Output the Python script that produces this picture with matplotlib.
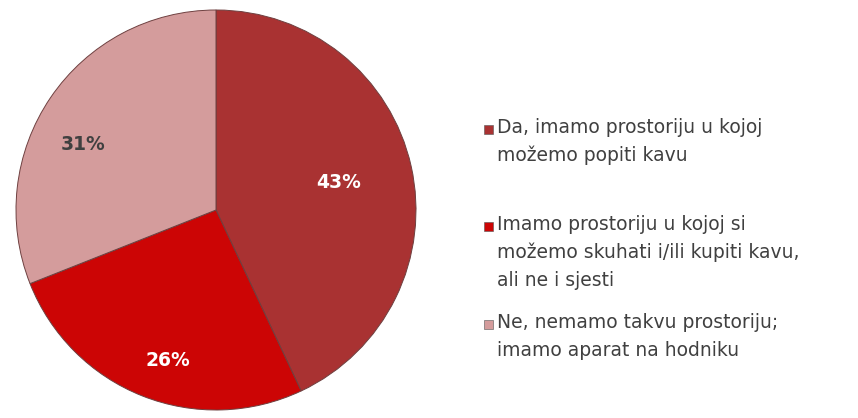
import numpy as np
import matplotlib
matplotlib.use("Agg")
import matplotlib.pyplot as plt
from matplotlib.patches import Rectangle

plt.rcParams["font.family"] = ["DejaVu Sans"]

labels = [
    "Da, imamo prostoriju u kojoj\nmožemo popiti kavu",
    "Imamo prostoriju u kojoj si\nmožemo skuhati i/ili kupiti kavu,\nali ne i sjesti",
    "Ne, nemamo takvu prostoriju;\nimamo aparat na hodniku",
]
values = [43, 26, 31]
colors = ["#A93232", "#CC0505", "#D49C9C"]
pct_colors = ["white", "white", "#404040"]
pct_dist = [0.63, 0.79, 0.74]
pct_shift = [0, 4, 8]  # degrees, Excel-style label offsets

W, H = 858, 418
fig = plt.figure(figsize=(W / 100, H / 100), dpi=100)

# pie axes, circle centre ~(216, 210) px, radius ~201 px
cx, cy, r = 216, 210, 201
ax = fig.add_axes([(cx - r) / W, (H - cy - r) / H, 2 * r / W, 2 * r / H])

wedges, texts = ax.pie(
    values,
    colors=colors,
    startangle=90,
    counterclock=False,
    wedgeprops=dict(edgecolor="#6e4040", linewidth=0.7),
)
ax.set_xlim(-1.005, 1.005)
ax.set_ylim(-1.005, 1.005)
ax.set_aspect("equal")

for w, v, c, d, s in zip(wedges, values, pct_colors, pct_dist, pct_shift):
    ang = np.deg2rad((w.theta1 + w.theta2) / 2 + s)
    ax.text(d * np.cos(ang), d * np.sin(ang), f"{v}%",
            ha="center", va="center", fontsize=13.5, fontweight="bold", color=c)

# legend drawn by hand so each entry keeps its own vertical spot
entry_tops = [118, 215, 313]
for lab, col, top in zip(labels, colors, entry_tops):
    fig.patches.append(Rectangle((484 / W, (H - top - 16) / H), 9 / W, 9 / H,
                                 transform=fig.transFigure, facecolor=col,
                                 edgecolor="#555555", linewidth=0.4))
    fig.text(497 / W, (H - top) / H, lab, ha="left", va="top",
             fontsize=13.5, color="#404040", linespacing=1.58)

fig.savefig("out.png", dpi=100)
